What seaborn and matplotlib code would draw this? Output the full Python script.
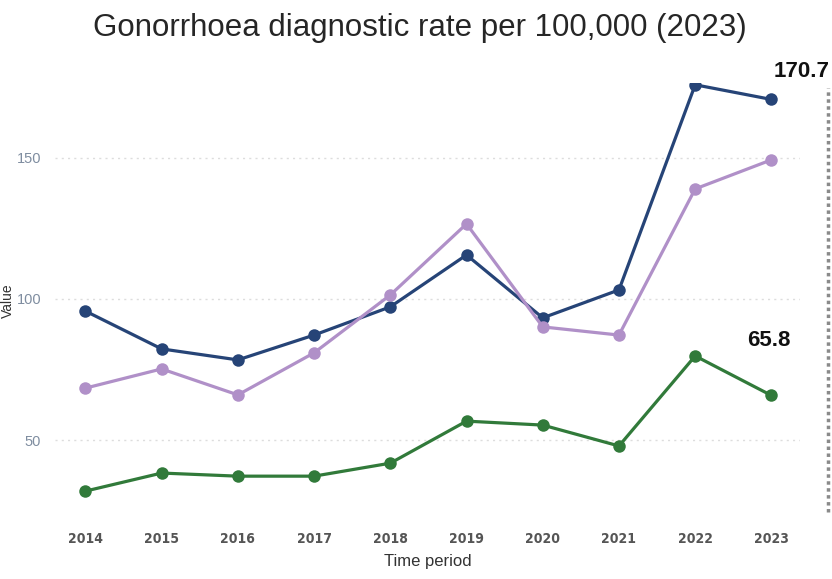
import matplotlib
matplotlib.use('Agg')
import matplotlib.pyplot as plt
import pandas as pd
import seaborn as sns
from matplotlib.lines import Line2D


# data
years = [2014, 2015, 2016, 2017, 2018, 2019, 2020, 2021, 2022, 2023]
navy_values = [95.7, 82.3, 78.4, 87.2, 97.2, 115.6, 93.3, 103.2, 175.9, 170.7]
purple_values = [68.4, 75.2, 66.0, 80.9, 101.4, 126.6, 90.1, 87.2, 139.0, 149.3]
green_values = [31.9, 38.3, 37.2, 37.2, 41.8, 56.7, 55.3, 47.9, 79.8, 65.8]
series_names = ['navy', 'purple', 'green']
y_ticks = [50, 100, 150]

colors = {'navy': '#264477', 'purple': '#b090c8', 'green': '#317a3a'}

df = pd.DataFrame({
    'year': years * 3,
    'value': navy_values + purple_values + green_values,
    'series': [s for s in series_names for _ in years],
})

sns.set_style('white')
plt.rcParams['font.family'] = ['Liberation Sans', 'DejaVu Sans']

fig = plt.figure(figsize=(8.32, 5.79), dpi=100)
ax = fig.add_axes([0.066, 0.105, 0.896, 0.752])

sns.lineplot(
    data=df, x='year', y='value', hue='series', palette=colors,
    marker='o', markersize=9, markeredgewidth=0, linewidth=2.3,
    legend=False, ax=ax, clip_on=True,
)

# grid and spines
ax.set_yticks(y_ticks)
ax.grid(axis='y', color='#dddddd', linestyle=(0, (1.5, 3)), linewidth=1)
ax.set_axisbelow(True)
for s in ax.spines.values():
    s.set_visible(False)

ax.set_xlim(2013.6, 2023.38)
ax.set_ylim(22.3, 176.6)
ax.set_xticks(years)
ax.set_xticklabels([str(y) for y in years], fontsize=10, color='#555555',
                   fontweight='bold', family='DejaVu Sans', fontstretch='condensed')
ax.tick_params(axis='y', labelsize=10.5, labelcolor='#7f8da0', length=0, pad=10)
ax.tick_params(axis='x', length=0, pad=10)
ax.set_xlabel('Time period', fontsize=12, color='#333333', labelpad=6)
ax.set_ylabel('Value', fontsize=10, color='#333333')
ax.yaxis.set_label_coords(-0.054, 0.5)

# value labels for latest year
ax.annotate('170.7', (years[-1], navy_values[-1]), xytext=(30, 28), textcoords='offset pixels',
            ha='center', va='center', fontsize=16, fontweight='bold', color='#111111',
            annotation_clip=False)
ax.annotate('65.8', (years[-1], green_values[-1]), xytext=(-3, 55), textcoords='offset pixels',
            ha='center', va='center', fontsize=16, fontweight='bold', color='#111111',
            annotation_clip=False)

# dotted separator on the right
fig.add_artist(Line2D([0.995, 0.995], [0.116, 0.848], transform=fig.transFigure,
                      color='#8a8a8a', linewidth=2.5, linestyle=(0, (1, 1))))

fig.suptitle('Gonorrhoea diagnostic rate per 100,000 (2023)', fontsize=22.5, x=0.505, y=0.978)

fig.savefig('out.png', dpi=100)
